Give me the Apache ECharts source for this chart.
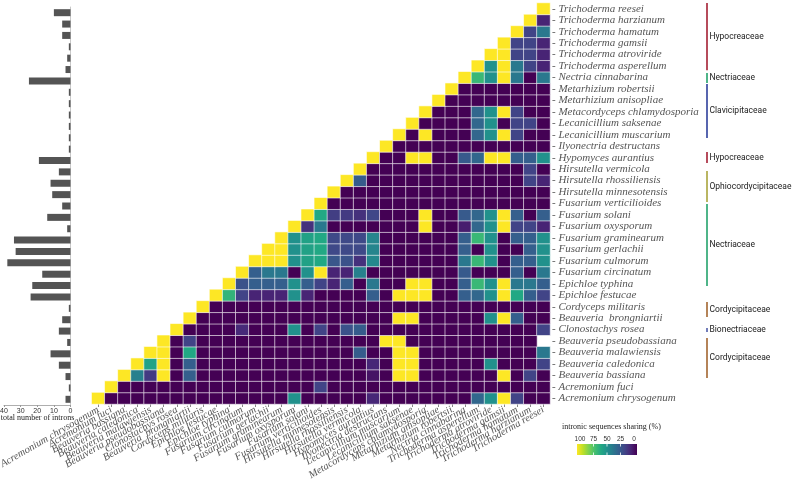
<!DOCTYPE html>
<html><head><meta charset="utf-8">
<script src="https://cdn.jsdelivr.net/npm/echarts@6/dist/echarts.min.js"></script>
<style>html,body{margin:0;padding:0;background:#fff}#c{width:800px;height:497px}</style>
</head><body><div id="c"></div><script>
// species, bottom row first (same order as columns, left to right)
const species = ["Acremonium chrysogenum","Acremonium fuci","Beauveria bassiana","Beauveria caledonica","Beauveria malawiensis","Beauveria pseudobassiana","Clonostachys rosea","Beauveria  brongniartii","Cordyceps militaris","Epichloe festucae","Epichloe typhina","Fusarium circinatum","Fusarium culmorum","Fusarium gerlachii","Fusarium graminearum","Fusarium oxysporum","Fusarium solani","Fusarium verticilioides","Hirsutella minnesotensis","Hirsutella rhossiliensis","Hirsutella vermicola","Hypomyces aurantius","Ilyonectria destructans","Lecanicillium muscarium","Lecanicillium saksenae","Metacordyceps chlamydosporia","Metarhizium anisopliae","Metarhizium robertsii","Nectria cinnabarina","Trichoderma asperellum","Trichoderma atroviride","Trichoderma gamsii","Trichoderma hamatum","Trichoderma harzianum","Trichoderma reesei"];

// total number of introns, same order as species
const intronCounts = [3,1,3,7,12,2,7,5,1,24,23,17,38,33,34,2,14,5,11,12,7,19,1,1,1,1,1,1,25,3,2,1,5,5,10];

// intronic sequences sharing (%): row r lists the columns r..34 (starting at its diagonal)
const sharingRows = [
 [100,0,0,0,0,0,0,0,0,0,0,0,0,0,0,50,0,0,0,0,0,11,0,0,0,0,0,0,0,33,50,100,20,0,0],
 [100,0,0,0,0,0,0,0,0,0,0,0,0,0,0,0,20,0,0,0,0,0,0,0,0,0,0,0,0,0,0,0,0,0],
 [100,43,17,100,0,30,0,0,0,0,0,0,0,0,0,0,0,0,0,5,0,100,100,0,0,0,0,0,0,100,0,20,0],
 [100,58,100,0,30,0,0,0,0,0,0,0,0,0,0,0,0,0,11,0,100,100,0,0,0,0,0,50,0,0,0,20],
 [100,100,0,60,0,0,0,0,0,0,0,0,0,0,0,0,29,0,0,100,100,0,0,0,0,0,0,0,0,0,40],
 [100,0,20,0,0,0,0,0,0,0,0,0,0,0,0,0,0,100,100,0,0,0,0,0,0,0,0,0,0],
 [100,0,0,0,0,12,0,0,0,50,0,20,0,25,29,0,0,0,0,0,0,0,0,0,0,0,0,0,20],
 [100,0,0,0,0,0,0,0,0,0,0,0,0,0,0,0,100,100,0,0,0,0,0,50,100,30,0,0],
 [100,0,0,0,0,0,0,0,0,0,0,0,0,0,0,0,0,0,0,0,0,0,0,0,0,0,0],
 [100,65,20,10,10,10,50,10,0,0,0,0,30,0,100,100,100,0,0,30,33,50,100,60,30,20],
 [100,25,30,30,30,50,30,20,10,30,0,40,0,0,100,100,0,0,30,67,50,100,40,40,30],
 [100,30,40,40,0,50,100,10,10,43,0,0,0,0,0,0,0,28,0,0,0,30,0,40],
 [100,100,100,50,57,60,27,25,14,47,0,0,0,0,0,0,40,67,50,0,30,30,50],
 [100,100,50,57,60,22,22,22,45,0,0,0,0,0,0,30,0,50,0,0,30,50],
 [100,50,57,60,22,22,22,45,0,0,0,0,0,0,30,67,50,0,30,30,50],
 [100,14,40,0,0,0,0,0,0,0,100,0,0,8,33,50,100,20,20,10],
 [100,60,18,17,14,21,0,0,0,100,0,0,28,33,50,100,30,0,30],
 [100,0,0,0,0,0,0,0,0,0,0,0,0,0,0,0,0,0],
 [100,0,0,0,0,0,0,0,0,0,0,0,0,0,0,0,0],
 [100,29,0,0,0,0,0,0,0,0,0,0,0,0,20,10],
 [100,0,0,0,0,0,0,0,0,0,0,0,0,20,0],
 [100,0,0,100,100,0,0,28,33,100,100,30,30,50],
 [100,0,0,0,0,0,0,0,0,0,0,0,0],
 [100,0,100,0,0,0,33,50,100,20,0,0],
 [100,0,0,0,0,33,50,0,20,20,0],
 [100,0,0,0,33,50,100,20,0,0],
 [100,0,0,0,0,0,0,0,0],
 [100,0,0,0,0,0,0,0],
 [100,67,50,100,40,0,40],
 [100,50,100,40,20,10],
 [100,100,20,20,10],
 [100,20,20,10],
 [100,20,40],
 [100,10],
 [100]
];

// family brackets (span in row units, row centre = row index)
const familyNames = ["Hypocreaceae","Nectriaceae","Clavicipitaceae","Hypocreaceae","Ophiocordycipitaceae","Nectriaceae","Cordycipitaceae","Bionectriaceae","Cordycipitaceae"];
const familyTop = [34.49,28.38,27.42,21.49,19.83,16.95,8.4,6.13,5.26];
const familyBottom = [28.64,27.51,22.71,20.53,17.13,9.8,7.09,5.78,1.77];
const familyColors = ["#a41f33","#23a26b","#2e3f9b","#a41f33","#a9a43c","#23a26b","#a2652f","#4f5ca8","#a2652f"];

const legendTicks = [100,75,50,25,0];
const viridis = ["#440154","#482475","#414487","#355f8d","#2a788e","#21918c","#22a884","#44bf70","#7ad151","#bddf26","#fde725"];

const heatData = [];
sharingRows.forEach((vals, r) => vals.forEach((v, k) => heatData.push([r + k, r, v])));
const famData = familyNames.map((n, i) => [7, familyTop[i], familyBottom[i], i]);

const chart = echarts.init(document.getElementById('c'), null, {renderer: 'canvas'});
const serifItalic = {fontFamily: 'Liberation Serif', fontStyle: 'italic', fontSize: 11, color: '#555'};

// legend graphic
const lgX = 577, lgY = 444, lgW = 60, lgH = 11;
const legendEls = [
  {type: 'text', left: 562, top: 423, style: {text: 'intronic sequences sharing (%)', font: '8px "Liberation Serif"', fill: '#222'}},
  {type: 'rect', shape: {x: lgX, y: lgY, width: lgW, height: lgH}, style: {fill: new echarts.graphic.LinearGradient(0, 0, 1, 0, viridis.slice().reverse().map((c, i, a) => ({offset: i / (a.length - 1), color: c})))}},
  {type: 'text', x: 37.5, y: 418, style: {text: 'total number of introns', font: '8px "Liberation Serif"', fill: '#222', align: 'center', verticalAlign: 'middle'}}
];
legendTicks.forEach((t, i) => {
  const x = lgX + 3 + i * (lgW - 6) / (legendTicks.length - 1);
  legendEls.push({type: 'text', x: x, y: 439, style: {text: String(t), font: '6.5px "Liberation Sans"', fill: '#333', align: 'center', verticalAlign: 'middle'}});
  if (i > 0 && i < legendTicks.length - 1) {
    legendEls.push({type: 'line', shape: {x1: x, y1: lgY, x2: x, y2: lgY + 2.5}, style: {stroke: '#fff', lineWidth: 0.8}});
    legendEls.push({type: 'line', shape: {x1: x, y1: lgY + lgH - 2.5, x2: x, y2: lgY + lgH}, style: {stroke: '#fff', lineWidth: 0.8}});
  }
});

chart.setOption({
  animation: false,
  backgroundColor: '#fff',
  grid: [
    {left: 91.7, right: 250, top: 3, bottom: 93, outerBoundsMode: 'none', containLabel: false},
    {left: 4, width: 66.5, top: 7, bottom: 92, outerBoundsMode: 'none', containLabel: false},
    {left: 700, right: 0, top: 3, bottom: 93, outerBoundsMode: 'none', containLabel: false}
  ],
  xAxis: [
    {gridIndex: 0, type: 'category', data: species, position: 'bottom',
     axisLine: {show: false}, axisTick: {show: true, alignWithLabel: true, length: 3, lineStyle: {color: '#888'}},
     axisLabel: Object.assign({}, serifItalic, {rotate: 30, margin: 5, interval: 0, fontSize: 10.5}), splitLine: {show: false}},
    {gridIndex: 1, type: 'value', inverse: true, min: 0, max: 40, interval: 10,
     axisLine: {show: true, lineStyle: {color: '#999', width: 0.8}}, axisTick: {show: true, length: 2, lineStyle: {color: '#999'}},
     axisLabel: {fontSize: 7, color: '#333', margin: 3, fontFamily: 'Liberation Sans'}, splitLine: {show: false}},
    {gridIndex: 2, type: 'value', min: 0, max: 100, show: false}
  ],
  yAxis: [
    {gridIndex: 0, type: 'category', data: species, position: 'right',
     axisLine: {show: false}, axisTick: {show: false},
     axisLabel: Object.assign({margin: 2, interval: 0, formatter: v => '- ' + v}, serifItalic), splitLine: {show: false}},
    {gridIndex: 1, type: 'category', data: species, position: 'right',
     axisLine: {show: true, lineStyle: {color: '#c8c8c8', width: 1}}, axisTick: {show: false}, axisLabel: {show: false}},
    {gridIndex: 2, type: 'value', min: -0.5, max: 34.5, show: false}
  ],
  visualMap: {show: false, min: 0, max: 100, seriesIndex: 0, dimension: 2, inRange: {color: viridis}},
  series: [
    {type: 'heatmap', xAxisIndex: 0, yAxisIndex: 0, data: heatData,
     itemStyle: {borderColor: 'rgba(255,255,255,0.75)', borderWidth: 0.8}},
    {type: 'bar', xAxisIndex: 1, yAxisIndex: 1, data: intronCounts, barWidth: 7,
     itemStyle: {color: '#545454'}},
    {type: 'custom', xAxisIndex: 2, yAxisIndex: 2, data: famData, encode: {x: 0, y: [1, 2]},
     renderItem: (params, api) => {
       const i = api.value(3);
       const p1 = api.coord([api.value(0), api.value(1)]);
       const p2 = api.coord([api.value(0), api.value(2)]);
       return {type: 'group', children: [
         {type: 'line', shape: {x1: p1[0], y1: p1[1], x2: p2[0], y2: p2[1]}, style: {stroke: familyColors[i], lineWidth: 1.6}},
         {type: 'text', style: {text: familyNames[i], x: p1[0] + 2.5, y: (p1[1] + p2[1]) / 2, verticalAlign: 'middle', fill: '#222', font: '8.5px Roboto'}}
       ]};
     }}
  ],
  graphic: legendEls
});
</script></body></html>
